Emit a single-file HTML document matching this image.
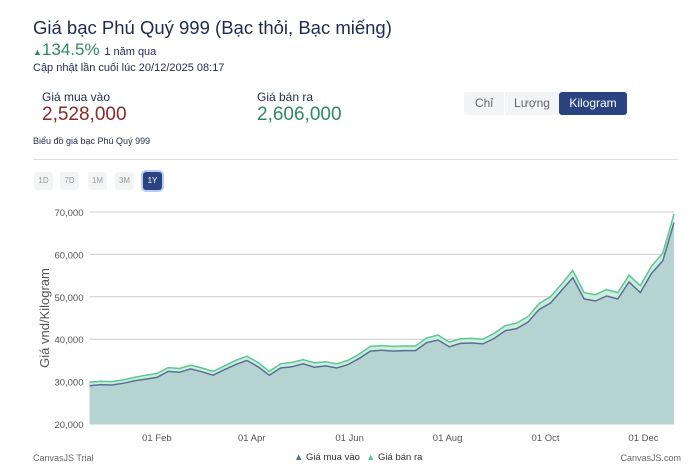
<!DOCTYPE html>
<html><head><meta charset="utf-8">
<style>
body{margin:0;width:698px;height:472px;background:#fff;font-family:"Liberation Sans","DejaVu Sans",sans-serif;position:relative;overflow:hidden;color:#1f2b4d}
.abs{position:absolute;white-space:nowrap}
.btn{position:absolute;top:92px;height:23px;line-height:23px;text-align:center;font-size:12px;color:#666;background:#f3f4f6}
.rb{position:absolute;top:172px;width:19px;height:18px;line-height:18px;text-align:center;font-size:8px;color:#999;background:#f3f4f6;border-radius:3px}
</style></head><body>
<div class="abs" style="left:33px;top:17px;font-size:18.5px;color:#1f2b4d">Giá bạc Phú Quý 999 (Bạc thỏi, Bạc miếng)</div>
<div class="abs" style="left:33px;top:40px;font-size:17px;color:#2e8a5e"><span style="font-size:9px">▲</span>134.5% <span style="font-size:11px;color:#1f2b4d">1 năm qua</span></div>
<div class="abs" style="left:33px;top:62px;font-size:11px">Cập nhật lần cuối lúc 20/12/2025 08:17</div>
<div class="abs" style="left:42px;top:90px;font-size:12px">Giá mua vào</div>
<div class="abs" style="left:42px;top:104px;font-size:19px;color:#8a2a2a">2,528,000</div>
<div class="abs" style="left:257px;top:90px;font-size:12px">Giá bán ra</div>
<div class="abs" style="left:257px;top:104px;font-size:19px;color:#2e8a5e">2,606,000</div>
<div class="btn" style="left:464px;width:40px;border-radius:3px 0 0 3px">Chỉ</div>
<div class="btn" style="left:505px;width:54px">Lượng</div>
<div class="btn" style="left:559px;width:68px;background:#2b4380;color:#fff;border-radius:3px">Kilogram</div>
<div class="abs" style="left:33px;top:136px;font-size:9px">Biểu đồ giá bạc Phú Quý 999</div>
<div class="abs" style="left:33px;top:159px;width:645px;height:1px;background:#ddd"></div>
<div class="rb" style="left:34px">1D</div>
<div class="rb" style="left:60px">7D</div>
<div class="rb" style="left:88px">1M</div>
<div class="rb" style="left:115px">3M</div>
<div class="rb" style="left:143px;background:#2b4380;color:#fff;box-shadow:0 0 0 2px #b8cdf5">1Y</div>
<svg id="chart" width="698" height="472" style="position:absolute;left:0;top:0" font-family="Liberation Sans, DejaVu Sans, sans-serif"></svg>
<script>
const weekDays=[-11,-4,3,10,17,24,31,38,45,52,59,66,73,80,87,94,101,108,115,122,129,136,143,150,157,164,171,178,185,192,199,206,213,220,227,234,241,248,255,262,269,276,283,290,297,304,311,318,325,332,339,346,353];
const buyValues=[29.0,29.3,29.2,29.6,30.2,30.6,31.0,32.4,32.2,33.0,32.3,31.5,32.8,34.0,35.0,33.5,31.5,33.2,33.5,34.2,33.4,33.7,33.2,34.0,35.5,37.2,37.4,37.2,37.3,37.3,39.2,39.8,38.2,39.0,39.1,38.9,40.2,42.0,42.5,44.0,47.0,48.5,51.5,54.5,49.5,49.0,50.2,49.5,53.5,51.0,55.5,58.5,67.5];
const sellValues=[29.8,30.1,30.0,30.4,31.0,31.5,31.9,33.3,33.1,33.9,33.2,32.4,33.7,35.0,36.0,34.5,32.4,34.2,34.5,35.2,34.4,34.7,34.2,35.0,36.5,38.3,38.5,38.3,38.4,38.4,40.3,41.0,39.3,40.1,40.2,40.0,41.4,43.2,43.8,45.3,48.4,50.0,53.0,56.2,51.0,50.5,51.7,51.0,55.1,52.6,57.2,60.3,69.5];
const yTicks=[20000,30000,40000,50000,60000,70000];
const yTickLabels=["20,000","30,000","40,000","50,000","60,000","70,000"];
const xTickDays=[31,90,151,212,273,334];
const xTickLabels=["01 Feb","01 Apr","01 Jun","01 Aug","01 Oct","01 Dec"];
const L=89.5,R=674,T=212,B=424,d0=-11,d1=353,v0=20000,v1=70000;
const X=d=>L+(d-d0)/(d1-d0)*(R-L);
const Y=v=>B-(v-v0)/(v1-v0)*(B-T);
const svg=document.getElementById('chart');const NS='http://www.w3.org/2000/svg';
function mk(t,a){const e=document.createElementNS(NS,t);for(const k in a)e.setAttribute(k,a[k]);svg.appendChild(e);return e;}
yTicks.forEach((v,i)=>{const g=mk('line',{x1:L,x2:R,y1:Y(v),y2:Y(v),stroke:'#ccc','stroke-width':1});


const t=mk('text',{x:L-6,y:Y(v)+4,'text-anchor':'end','font-size':9.5,fill:'#555'});t.textContent=yTickLabels[i];

});
xTickDays.forEach((d,i)=>{const t=mk('text',{x:X(d),y:441,'text-anchor':'middle','font-size':9.5,fill:'#555'});t.textContent=xTickLabels[i];

});
function pts(vals){return weekDays.map((d,i)=>X(d).toFixed(1)+','+Y(vals[i]*1000).toFixed(1));}
const sp=pts(sellValues),bp=pts(buyValues);
const sa=mk('polygon',{points:X(d0)+','+B+' '+sp.join(' ')+' '+X(d1)+','+B,fill:'#cdeedd'});


const ba=mk('polygon',{points:X(d0)+','+B+' '+bp.join(' ')+' '+X(d1)+','+B,fill:'#b5d4d1'});


const sl=mk('polyline',{points:sp.join(' '),fill:'none',stroke:'#5cc794','stroke-width':1.5});


const bl=mk('polyline',{points:bp.join(' '),fill:'none',stroke:'#5a6f96','stroke-width':1.5});


const yt=mk('text',{x:0,y:0,'text-anchor':'middle','font-size':13,fill:'#555',transform:'translate(49,318) rotate(-90)'});yt.textContent='Giá vnd/Kilogram';


const lg1=mk('text',{x:294,y:460,'font-size':9.5,fill:'#333'});lg1.innerHTML='<tspan fill="#5a6f96">▲</tspan> Giá mua vào';


const lg2=mk('text',{x:366,y:460,'font-size':9.5,fill:'#333'});lg2.innerHTML='<tspan fill="#5cc794">▲</tspan> Giá bán ra';


const c1=mk('text',{x:33,y:461,'font-size':9,fill:'#666'});c1.textContent='CanvasJS Trial';


const c2=mk('text',{x:681,y:461,'text-anchor':'end','font-size':9,fill:'#666'});c2.textContent='CanvasJS.com';


</script>
</body></html>
